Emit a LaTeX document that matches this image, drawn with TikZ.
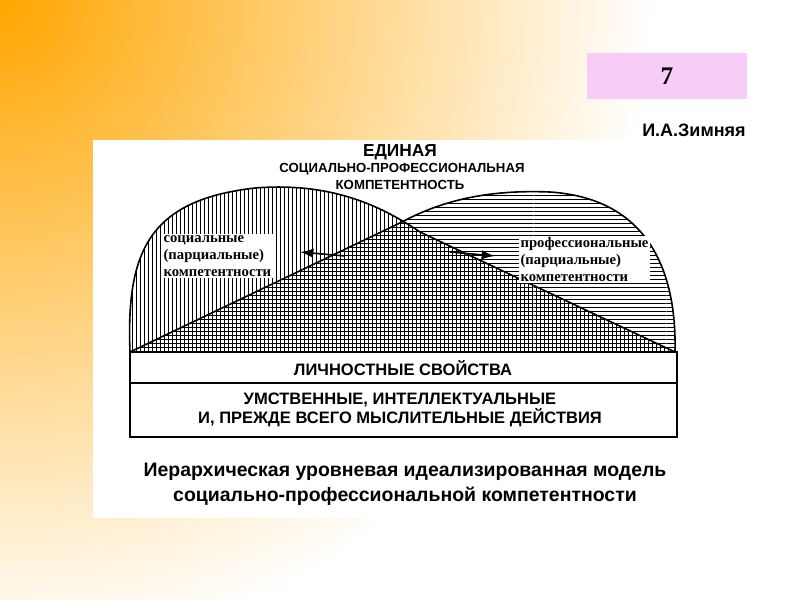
\documentclass[tikz,border=0pt]{standalone}
\usepackage{fontspec}
\setmainfont{Liberation Sans}
\newfontfamily\serifb{Liberation Serif}
\usetikzlibrary{patterns,arrows.meta}
\definecolor{boxpink}{HTML}{F7CCF7}
\begin{document}
\begin{tikzpicture}[x=0.75pt,y=-0.75pt,
  lbl/.style={fill=white,inner sep=1pt,align=left,font=\serifb\bfseries\fontsize{11}{12.8}\selectfont},
  bar/.style={draw,line width=0.8pt,fill=white},
  bartxt/.style={font=\bfseries\fontsize{12.4}{14}\selectfont,align=center},
  arr/.style={-{Latex[length=10pt,width=7pt]},line width=1.2pt}]
\useasboundingbox (0,0) rectangle (800,600);
\fill[white] (0,0) rectangle (800,600);
\begin{scope}
\clip (0,0) rectangle (800,600);
\shade[inner color=orange!70!yellow, outer color=white] (0,0) circle (650);
\end{scope}
\fill[white] (93,140) rectangle (700,518);
\node[fill=boxpink,minimum width=120pt,minimum height=35pt] (num) at (667,76) {\serifb\bfseries\fontsize{19}{22}\selectfont 7};
\node[font=\bfseries\fontsize{13.5}{15}\selectfont] (auth) at (694,130) {И.А.Зимняя};
\node[font=\bfseries\fontsize{13}{14}\selectfont] (t1) at (400,152) {ЕДИНАЯ};
\node[font=\bfseries\fontsize{9.9}{11}\selectfont] (t2) at (402,169) {СОЦИАЛЬНО-ПРОФЕССИОНАЛЬНАЯ};
\node[font=\bfseries\fontsize{9.9}{11}\selectfont] (t3) at (400,185) {КОМПЕТЕНТНОСТЬ};
% blobs
\path[pattern=vertical lines] (130,352) .. controls (126,250) and (150,200) .. (255,188) .. controls (330,182) and (380,205) .. (420,232) -- (675,352) -- cycle;
\path[pattern=horizontal lines] (130,352) -- (402,222) .. controls (450,196) and (500,190) .. (550,192) .. controls (640,198) and (677,260) .. (675,352) -- cycle;
\draw[line width=1.2pt] (130,352) .. controls (126,250) and (150,200) .. (255,188) .. controls (330,182) and (380,205) .. (420,232) -- (675,352);
\draw[line width=1.2pt] (130,352) -- (402,222) .. controls (450,196) and (500,190) .. (550,192) .. controls (640,198) and (677,260) .. (675,352);
\node[lbl,anchor=north west] (sl) at (162,234) {социальные\\(парциальные)\\компетентности};
\node[lbl,anchor=north west] (pl) at (519,236) {профессиональные\\(парциальные)\\компетентности};
\coordinate (a1) at (345,256); \coordinate (a2) at (300,252);
\coordinate (b1) at (450,252); \coordinate (b2) at (495,256);
\draw[arr] (a1) -- (a2);
\draw[arr] (b1) -- (b2);
% bars
\draw[bar] (130,352) rectangle (677,383);
\draw[bar] (130,383) rectangle (677,437);
\node[bartxt] (lb) at (403,368) {ЛИЧНОСТНЫЕ СВОЙСТВА};
\node[bartxt] (ub) at (400,410) {УМСТВЕННЫЕ, ИНТЕЛЛЕКТУАЛЬНЫЕ\\И, ПРЕЖДЕ ВСЕГО МЫСЛИТЕЛЬНЫЕ ДЕЙСТВИЯ};
\node[font=\bfseries\fontsize{14.6}{19}\selectfont,align=center] (cap) at (405,484) {Иерархическая уровневая идеализированная модель\\социально-профессиональной компетентности};
\end{tikzpicture}
\end{document}
